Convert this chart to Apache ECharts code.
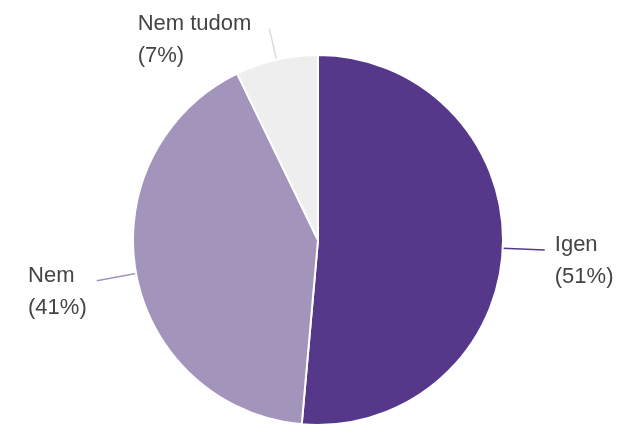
<!DOCTYPE html>
<html>
<head>
<meta charset="utf-8">
<script src="https://cdn.jsdelivr.net/npm/echarts@6/dist/echarts.min.js"></script>
<style>
  html, body { margin: 0; padding: 0; background: #fff; }
  #chart { width: 624px; height: 424px; }
</style>
</head>
<body>
<div id="chart"></div>
<script>
const categories = ['Igen', 'Nem', 'Nem tudom'];
const values = [51.4, 41.4, 7.2];
const colors = ['#55388a', '#a294bb', '#eeeeee'];
const lineColors = ['#55388a', '#a294bb', '#dddddd'];
const lineLengths = [42, 40, 32];
const labelGaps = [10, 10, 18];

const chart = echarts.init(document.getElementById('chart'));

const option = {
  animation: false,
  backgroundColor: '#fff',
  series: [
    {
      type: 'pie',
      center: [318, 240],
      radius: 185,
      startAngle: 90,
      clockwise: true,
      avoidLabelOverlap: false,
      data: categories.map((name, i) => ({
        name: name,
        value: values[i],
        itemStyle: { color: colors[i] },
        label: { distanceToLabelLine: labelGaps[i] },
        labelLine: { length: lineLengths[i], lineStyle: { color: lineColors[i], width: 1.5 } }
      })),
      itemStyle: { borderColor: '#fff', borderWidth: 2 },
      label: {
        show: true,
        color: '#444',
        fontSize: 22,
        fontFamily: 'Arial, "Liberation Sans", sans-serif',
        lineHeight: 32,
        padding: [22, 0, 0, 0],
        formatter: p => '{a|' + p.name + '}\n{a|(' + Math.round(p.percent) + '%)}',
        rich: {
          a: { align: 'left', color: '#444', fontSize: 22, lineHeight: 32,
               fontFamily: 'Arial, "Liberation Sans", sans-serif' }
        }
      },
      labelLine: { show: true, length2: 0, smooth: false },
      emphasis: { disabled: true }
    }
  ]
};

chart.setOption(option);
</script>
</body>
</html>
